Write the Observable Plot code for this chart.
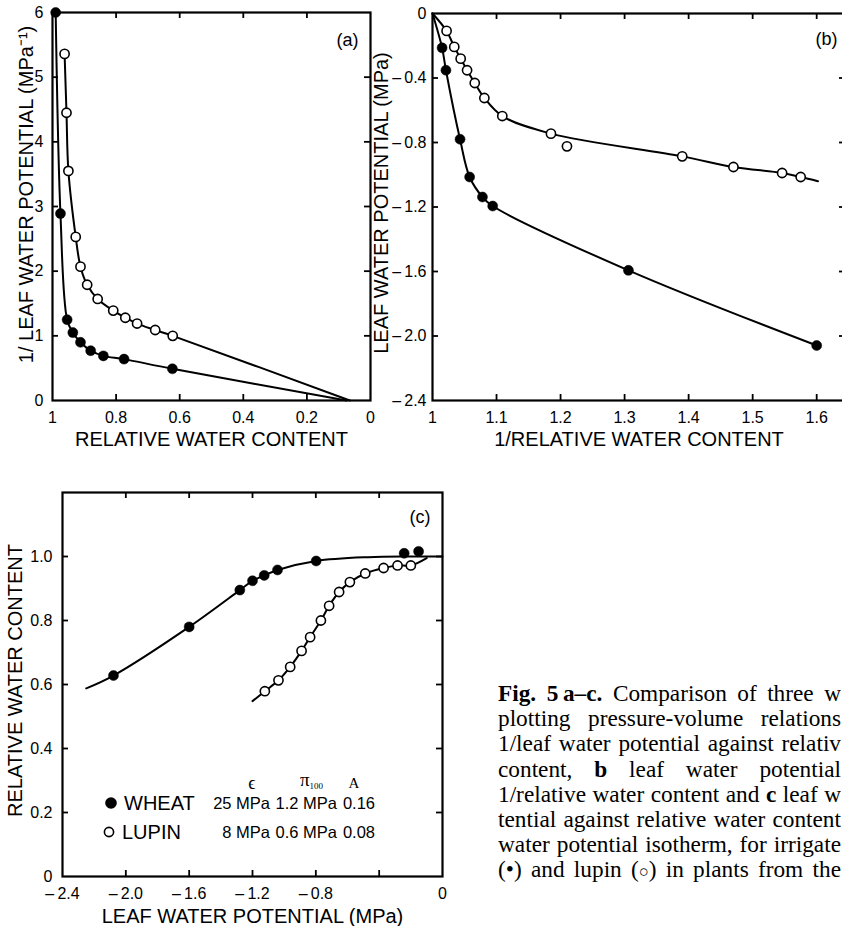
<!DOCTYPE html>
<html>
<head>
<meta charset="utf-8">
<script src="https://cdn.jsdelivr.net/npm/d3@7"></script>
<script src="https://cdn.jsdelivr.net/npm/@observablehq/plot@0.6"></script>
<style>
html,body{margin:0;padding:0;overflow:hidden;background:#fff;width:842px;height:926px;}
#root{position:relative;width:842px;height:926px;overflow:hidden;font-family:"Liberation Sans",Arial,sans-serif;color:#000;}
.panel{position:absolute;}
.cap{position:absolute;left:498px;top:681px;font-family:"Liberation Serif","Times New Roman",serif;font-size:23.3px;line-height:25.2px;color:#000;}
.cap div{text-align:justify;text-align-last:justify;width:343px;height:25.2px;overflow:hidden;}
.cap .sym{display:inline-block;}
#legend{position:absolute;left:0;top:0;}
</style>
</head>
<body>
<div id="root"></div>
<script>
// ---------- Panel (a): 1/leaf water potential vs relative water content ----------
const aWheatRWC    = [0.99, 0.975, 0.954, 0.936, 0.912, 0.88, 0.84, 0.775, 0.623];
const aWheatInvPsi = [6.0, 2.89, 1.25, 1.05, 0.90, 0.77, 0.69, 0.64, 0.49];
const aLupinRWC    = [0.962, 0.956, 0.95, 0.927, 0.912, 0.891, 0.858, 0.809, 0.771, 0.734, 0.677, 0.622];
const aLupinInvPsi = [5.36, 4.45, 3.55, 2.53, 2.07, 1.79, 1.57, 1.39, 1.28, 1.19, 1.09, 1.0];
const aWheatFitRWC    = [0.99, 0.975, 0.954, 0.936, 0.912, 0.88, 0.84, 0.775, 0.623, 0.075];
const aWheatFitInvPsi = [6.0, 2.89, 1.25, 1.05, 0.90, 0.77, 0.69, 0.64, 0.49, 0];
const aLupinFitRWC    = [0.962, 0.956, 0.95, 0.927, 0.912, 0.891, 0.858, 0.809, 0.771, 0.734, 0.677, 0.622, 0.065];
const aLupinFitInvPsi = [5.36, 4.45, 3.55, 2.53, 2.07, 1.79, 1.57, 1.39, 1.28, 1.19, 1.09, 1.0, 0];
const aXTicks = [1, 0.8, 0.6, 0.4, 0.2, 0];
const aXTickLabels = ["1", "0.8", "0.6", "0.4", "0.2", "0"];
const aYTicks = [0, 1, 2, 3, 4, 5, 6];
const aYTickLabels = ["0", "1", "2", "3", "4", "5", "6"];

// ---------- Panel (b): leaf water potential vs 1/relative water content ----------
const bWheatInvRWC = [1.015, 1.021, 1.043, 1.058, 1.078, 1.094, 1.306, 1.60];
const bWheatPsi    = [-0.213, -0.352, -0.78, -1.014, -1.138, -1.194, -1.593, -2.059];
const bLupinInvRWC = [1.022, 1.034, 1.044, 1.054, 1.066, 1.081, 1.109, 1.185, 1.21, 1.39, 1.47, 1.546, 1.575];
const bLupinPsi    = [-0.108, -0.207, -0.28, -0.352, -0.431, -0.524, -0.636, -0.745, -0.824, -0.886, -0.952, -0.989, -1.014];
const bWheatFitInvRWC = [1.0, 1.015, 1.021, 1.043, 1.058, 1.078, 1.094, 1.306, 1.60];
const bWheatFitPsi    = [0, -0.213, -0.352, -0.78, -1.014, -1.138, -1.194, -1.593, -2.059];
const bLupinFitInvRWC = [1.0, 1.022, 1.034, 1.044, 1.054, 1.066, 1.081, 1.109, 1.185, 1.39, 1.47, 1.546, 1.575, 1.602];
const bLupinFitPsi    = [0, -0.108, -0.207, -0.28, -0.352, -0.431, -0.524, -0.636, -0.745, -0.886, -0.952, -0.989, -1.014, -1.04];
const bXTicks = [1, 1.1, 1.2, 1.3, 1.4, 1.5, 1.6];
const bXTickLabels = ["1", "1.1", "1.2", "1.3", "1.4", "1.5", "1.6"];
const bYTicks = [0, -0.4, -0.8, -1.2, -1.6, -2.0, -2.4];
const bYTickLabels = ["0", "\u2013\u20090.4", "\u2013\u20090.8", "\u2013\u20091.2", "\u2013\u20091.6", "\u2013\u20092.0", "\u2013\u20092.4"];

// ---------- Panel (c): relative water content vs leaf water potential ----------
const cWheatPsi = [-2.078, -1.60, -1.28, -1.20, -1.126, -1.042, -0.798, -0.242, -0.151];
const cWheatRWC = [0.628, 0.78, 0.895, 0.924, 0.941, 0.958, 0.986, 1.01, 1.016];
const cLupinPsi = [-1.122, -1.036, -0.962, -0.89, -0.836, -0.768, -0.716, -0.653, -0.585, -0.488, -0.372, -0.284, -0.2];
const cLupinRWC = [0.579, 0.613, 0.655, 0.705, 0.748, 0.80, 0.846, 0.889, 0.92, 0.947, 0.964, 0.972, 0.972];
const cWheatFitPsi = [-2.25, -2.078, -1.60, -1.28, -1.20, -1.126, -1.042, -0.798, -0.47, -0.2, 0];
const cWheatFitRWC = [0.588, 0.628, 0.78, 0.895, 0.924, 0.941, 0.958, 0.986, 0.998, 1.0, 1.0];
const cLupinFitPsi = [-1.2, -1.122, -1.036, -0.962, -0.89, -0.836, -0.768, -0.716, -0.653, -0.585, -0.488, -0.372, -0.284, -0.2, -0.1];
const cLupinFitRWC = [0.548, 0.579, 0.613, 0.655, 0.705, 0.748, 0.80, 0.846, 0.889, 0.92, 0.947, 0.964, 0.972, 0.972, 0.995];
const cXTicks = [-2.4, -2.0, -1.6, -1.2, -0.8, 0];
const cXTickLabels = ["\u2013\u20092.4", "\u2013\u20092.0", "\u2013\u20091.6", "\u2013\u20091.2", "\u2013\u20090.8", "0"];
const cXInnerTicks = [-2.0, -1.6, -1.2, -0.8, -0.4];
const cYTicks = [0, 0.2, 0.4, 0.6, 0.8, 1.0];
const cYTickLabels = ["0", "0.2", "0.4", "0.6", "0.8", "1.0"];

// legend table (panel c)
const legendSpecies = ["WHEAT", "LUPIN"];
const legendEpsilon = ["25 MPa", "8 MPa"];
const legendPi100   = ["1.2 MPa", "0.6 MPa"];
const legendA       = ["0.16", "0.08"];

// caption lines (as visible in the reference, cut at the right edge)
const captionLines = [
  "<b>Fig. 5\u2009a\u2013c.</b> Comparison of three w",
  "plotting pressure-volume relations",
  "1/leaf water potential against relativ",
  "content, <b>b</b> leaf water potential",
  "1/relative water content and <b>c</b> leaf w",
  "tential against relative water content",
  "water potential isotherm, for irrigate",
  "<span class=\"sym\">(\u2022)</span> and lupin <span class=\"sym\">(<span style=\"font-size:0.7em\">\u25CB</span>)</span> in plants from the"
];

const FONT = '"Liberation Sans", Arial, Helvetica, sans-serif';
const TICK = 6;

function buildPanel(o) {
  const fw = o.width - o.ml - o.mr, fh = o.height - o.mt - o.mb;
  const xMap = new Map(o.xTicks.map((v, i) => [v, o.xLabels[i]]));
  const yMap = new Map(o.yTicks.map((v, i) => [v, o.yLabels[i]]));
  const tk = {stroke: "#000", strokeWidth: 1.8};
  const marks = [
    Plot.tickX(o.xInner, {x: d => d, insetTop: fh - TICK, ...tk}),
    Plot.tickX(o.xInner, {x: d => d, insetBottom: fh - TICK, ...tk}),
    Plot.tickY(o.yInner, {y: d => d, insetRight: fw - TICK, ...tk}),
    Plot.tickY(o.yInner, {y: d => d, insetLeft: fw - TICK, ...tk}),
    Plot.axisX(o.xTicks, {anchor: "bottom", tickSize: 0, tickPadding: o.xPad, tickFormat: d => xMap.get(d), fontSize: 16, label: null}),
    Plot.axisY(o.yTicks, {anchor: "left", tickSize: 0, tickPadding: o.yPad, tickFormat: d => yMap.get(d), fontSize: 16, label: null})
  ];
  for (const s of o.series) {
    marks.push(Plot.line(d3.range(s.fitX.length), {x: i => s.fitX[i], y: i => s.fitY[i], curve: "catmull-rom", stroke: "#000", strokeWidth: 2}));
  }
  for (const s of o.series) {
    marks.push(Plot.dot(d3.range(s.x.length), {
      x: i => s.x[i], y: i => s.y[i], r: s.filled ? 5 : 4.6,
      fill: s.filled ? "#000" : "#fff", stroke: "#000", strokeWidth: s.filled ? 0.5 : 1.6
    }));
  }
  marks.push(Plot.frame({stroke: "#000", strokeWidth: 2.2}));
  marks.push(Plot.text([o.xTitle], {text: d => d, frameAnchor: "bottom", lineAnchor: "bottom", dy: o.xTitleDy, fontSize: 20}));
  marks.push(Plot.text([o.yTitle], {text: d => d, frameAnchor: "left", rotate: -90, textAnchor: "middle", lineAnchor: "middle", dx: o.yTitleDx, dy: o.yTitleDy, fontSize: 20}));
  marks.push(Plot.text([o.tag], {text: d => d, frameAnchor: "top-right", textAnchor: "end", lineAnchor: "top", dx: o.tagDx, dy: o.tagDy, fontSize: 18}));
  return Plot.plot({
    width: o.width, height: o.height,
    marginTop: o.mt, marginRight: o.mr, marginBottom: o.mb, marginLeft: o.ml,
    x: {domain: o.xDomain, label: null},
    y: {domain: o.yDomain, label: null},
    style: {fontFamily: FONT, fontSize: "16px", color: "#000", background: "transparent", overflow: "visible"},
    marks
  });
}

const root = document.getElementById("root");
function place(el, left, top, w, h) {
  const d = document.createElement("div");
  d.className = "panel";
  d.style.left = left + "px"; d.style.top = top + "px";
  d.style.width = w + "px"; d.style.height = h + "px";
  d.appendChild(el);
  root.appendChild(d);
}

place(buildPanel({
  width: 380, height: 460, mt: 12, mr: 10, mb: 60, ml: 52,
  xDomain: [1, 0], yDomain: [0, 6],
  xTicks: aXTicks, xLabels: aXTickLabels, yTicks: aYTicks, yLabels: aYTickLabels,
  xInner: aXTicks.slice(1, -1), yInner: aYTicks.slice(1, -1),
  xPad: 11, yPad: 9,
  series: [
    {x: aWheatRWC, y: aWheatInvPsi, fitX: aWheatFitRWC, fitY: aWheatFitInvPsi, filled: true},
    {x: aLupinRWC, y: aLupinInvPsi, fitX: aLupinFitRWC, fitY: aLupinFitInvPsi, filled: false}
  ],
  xTitle: "RELATIVE WATER CONTENT", xTitleDy: 45,
  yTitle: "1/ LEAF WATER POTENTIAL (MPa\u207B\u00B9)", yTitleDx: -26, yTitleDy: -12,
  tag: "(a)", tagDx: -12, tagDy: 21
}), 0, 0, 380, 460);

place(buildPanel({
  width: 470, height: 460, mt: 13, mr: 5, mb: 60, ml: 52,
  xDomain: [1, 1.645], yDomain: [-2.4, 0],
  xTicks: bXTicks, xLabels: bXTickLabels, yTicks: bYTicks, yLabels: bYTickLabels,
  xInner: bXTicks.slice(1), yInner: bYTicks.slice(1, -1),
  xPad: 11, yPad: 6,
  series: [
    {x: bWheatInvRWC, y: bWheatPsi, fitX: bWheatFitInvRWC, fitY: bWheatFitPsi, filled: true},
    {x: bLupinInvRWC, y: bLupinPsi, fitX: bLupinFitInvRWC, fitY: bLupinFitPsi, filled: false}
  ],
  xTitle: "1/RELATIVE WATER CONTENT", xTitleDy: 45,
  yTitle: "LEAF WATER POTENTIAL (MPa)", yTitleDx: -51, yTitleDy: -4,
  tag: "(b)", tagDx: -8, tagDy: 19
}), 380, 0, 470, 460);

place(buildPanel({
  width: 460, height: 466, mt: 32, mr: 18, mb: 50, ml: 62,
  xDomain: [-2.4, 0], yDomain: [0, 1.2],
  xTicks: cXTicks, xLabels: cXTickLabels, yTicks: cYTicks, yLabels: cYTickLabels,
  xInner: cXInnerTicks, yInner: cYTicks.slice(1),
  xPad: 11, yPad: 10,
  series: [
    {x: cWheatPsi, y: cWheatRWC, fitX: cWheatFitPsi, fitY: cWheatFitRWC, filled: true},
    {x: cLupinPsi, y: cLupinRWC, fitX: cLupinFitPsi, fitY: cLupinFitRWC, filled: false}
  ],
  xTitle: "LEAF WATER POTENTIAL (MPa)", xTitleDy: 46,
  yTitle: "RELATIVE WATER CONTENT", yTitleDx: -47, yTitleDy: -4,
  tag: "(c)", tagDx: -12, tagDy: 18
}), 0, 460, 460, 466);

// ---------- legend table inside panel (c) ----------
const lg = d3.select(root).append("svg").attr("id", "legend").attr("width", 842).attr("height", 926)
  .style("font-family", FONT);
const serif = '"Liberation Serif","DejaVu Serif","Times New Roman",serif';
lg.append("text").attr("x", 252).attr("y", 789).attr("text-anchor", "middle").style("font-family", serif).style("font-size", "18px").text("\u03F5");
const pi = lg.append("text").attr("x", 300).attr("y", 786).style("font-family", serif).style("font-size", "19px");
pi.append("tspan").text("\u03C0");
pi.append("tspan").attr("dy", 3).style("font-size", "9px").text("100");
lg.append("text").attr("x", 354).attr("y", 788).attr("text-anchor", "middle").style("font-family", serif).style("font-size", "15px").text("A");
const rowsY = [803, 832];
const colRight = [270, 337, 375];
legendSpecies.forEach((name, i) => {
  const cy = rowsY[i];
  if (i === 0) lg.append("circle").attr("cx", 111).attr("cy", cy).attr("r", 5.8).attr("fill", "#000");
  else lg.append("circle").attr("cx", 109).attr("cy", cy).attr("r", 4.6).attr("fill", "#fff").attr("stroke", "#000").attr("stroke-width", 1.6);
  lg.append("text").attr("x", i === 0 ? 124 : 122).attr("y", cy + 7.2).style("font-size", "20px").text(name);
  [legendEpsilon[i], legendPi100[i], legendA[i]].forEach((t, j) => {
    lg.append("text").attr("x", colRight[j]).attr("y", cy + 6).attr("text-anchor", "end").style("font-size", "16.5px").text(t);
  });
});

// ---------- caption ----------
const cap = document.createElement("div");
cap.className = "cap";
for (const ln of captionLines) {
  const d = document.createElement("div");
  d.innerHTML = ln;
  cap.appendChild(d);
}
root.appendChild(cap);
</script>
</body>
</html>
